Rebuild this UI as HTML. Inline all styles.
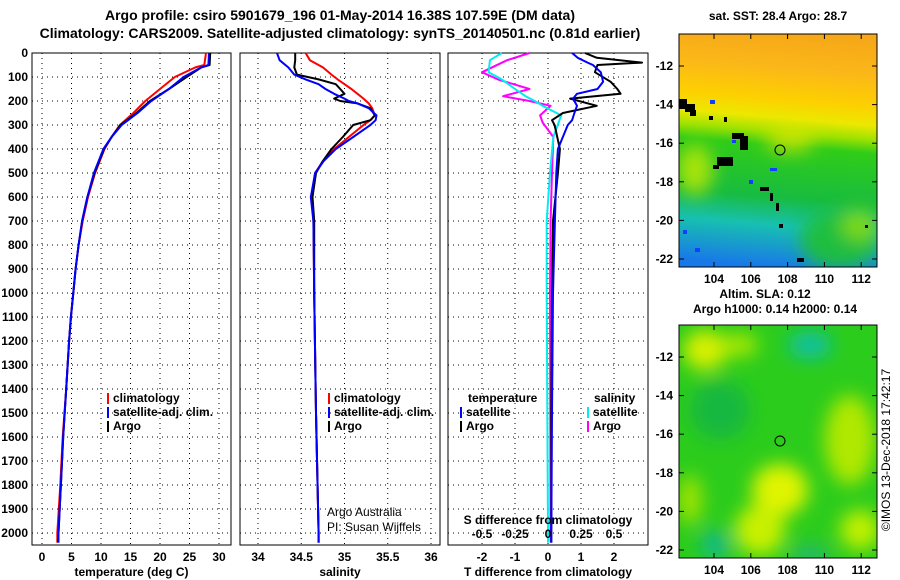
<!DOCTYPE html>
<html><head><meta charset="utf-8">
<style>
html,body{margin:0;padding:0;background:#fff;}
svg{display:block;font-family:"Liberation Sans",sans-serif;}
.t{font-weight:bold;font-size:12px;fill:#000;}
.ti{font-weight:bold;font-size:14px;fill:#000;}
.grid{stroke:#000;stroke-width:1;stroke-dasharray:1,4;}
</style></head>
<body>
<svg id="fig" width="900" height="580" viewBox="0 0 900 580" xmlns="http://www.w3.org/2000/svg">
<defs>
<linearGradient id="sstg" gradientUnits="userSpaceOnUse" x1="790" y1="34" x2="770" y2="267">
<stop offset="0" stop-color="#f6a818"/>
<stop offset="0.15" stop-color="#fbb818"/>
<stop offset="0.28" stop-color="#fdd000"/>
<stop offset="0.36" stop-color="#ece800"/>
<stop offset="0.42" stop-color="#a0e200"/>
<stop offset="0.48" stop-color="#30cc18"/>
<stop offset="0.70" stop-color="#18bc40"/>
<stop offset="0.82" stop-color="#18c0b0"/>
<stop offset="1" stop-color="#1878e8"/>
</linearGradient>
<filter id="blur" x="-50%" y="-50%" width="200%" height="200%"><feGaussianBlur stdDeviation="9"/></filter>
<clipPath id="m1c"><rect x="679" y="34" width="198" height="233"/></clipPath>
<clipPath id="m2c"><rect x="679" y="325" width="198" height="233"/></clipPath>
</defs>
<text class="ti" x="340" y="20" text-anchor="middle">Argo profile: csiro 5901679_196 01-May-2014 16.38S 107.59E (DM data)</text>
<text class="ti" x="340" y="38" text-anchor="middle">Climatology: CARS2009. Satellite-adjusted climatology: synTS_20140501.nc (0.81d earlier)</text>
<g id="p1"></g>
<g id="p2"></g>
<g id="p3"></g>

<!-- SST map -->
<g>
<text class="t" x="778" y="20" text-anchor="middle">sat. SST: 28.4 Argo: 28.7</text>
<g clip-path="url(#m1c)">
<rect x="679" y="34" width="198" height="233" fill="url(#sstg)"/>
<g filter="url(#blur)">
<ellipse cx="695" cy="170" rx="18" ry="25" fill="#c8ec00" opacity="0.8"/>
<ellipse cx="790" cy="140" rx="25" ry="12" fill="#e8e800" opacity="0.7"/>
<ellipse cx="840" cy="240" rx="40" ry="30" fill="#20c030" opacity="0.9"/>
<ellipse cx="860" cy="225" rx="18" ry="15" fill="#a8e400" opacity="0.7"/>
</g>
<g fill="#000">
<rect x="679" y="99" width="8" height="10"/><rect x="685" y="104" width="10" height="8"/><rect x="690" y="110" width="6" height="6"/>
<rect x="732" y="133" width="12" height="6"/><rect x="740" y="136" width="8" height="14"/>
<rect x="717" y="157" width="16" height="9"/><rect x="713" y="165" width="6" height="4"/>
<rect x="760" y="187" width="9" height="4"/><rect x="770" y="193" width="3" height="8"/><rect x="776" y="203" width="3" height="8"/>
<rect x="779" y="224" width="4" height="4"/><rect x="797" y="258" width="7" height="4"/><rect x="865" y="225" width="3" height="3"/>
<rect x="709" y="116" width="4" height="4"/><rect x="724" y="117" width="3" height="5"/>
</g>
<g fill="#1040ff">
<rect x="710" y="100" width="5" height="4"/><rect x="732" y="140" width="4" height="3"/><rect x="770" y="168" width="7" height="3"/>
<rect x="683" y="230" width="4" height="4"/><rect x="695" y="248" width="5" height="4"/><rect x="749" y="180" width="4" height="4"/>
</g>
</g>
<rect x="679" y="34" width="198" height="233" fill="none" stroke="#000"/>
<circle cx="780" cy="150" r="5" fill="none" stroke="#000"/>
<g id="m1ax"></g>
</g>

<!-- SLA map -->
<g>
<text class="t" x="765" y="298" text-anchor="middle">Altim. SLA: 0.12</text>
<text class="t" x="775" y="313" text-anchor="middle">Argo h1000: 0.14 h2000: 0.14</text>
<g clip-path="url(#m2c)">
<rect x="679" y="325" width="198" height="233" fill="#2ccc1c"/>
<g filter="url(#blur)">
<ellipse cx="705" cy="350" rx="22" ry="20" fill="#d8f000"/>
<ellipse cx="740" cy="345" rx="18" ry="12" fill="#a8e800"/>
<ellipse cx="810" cy="345" rx="22" ry="14" fill="#10c0a0"/>
<ellipse cx="780" cy="490" rx="28" ry="26" fill="#e0f400"/>
<ellipse cx="850" cy="440" rx="25" ry="45" fill="#b0e800"/>
<ellipse cx="760" cy="530" rx="25" ry="25" fill="#c8f000"/>
<ellipse cx="860" cy="530" rx="20" ry="20" fill="#c0f000"/>
<ellipse cx="715" cy="545" rx="14" ry="14" fill="#10b890"/>
<ellipse cx="810" cy="555" rx="20" ry="10" fill="#20b870"/>
<ellipse cx="720" cy="410" rx="30" ry="30" fill="#18b840"/>
<ellipse cx="690" cy="500" rx="12" ry="25" fill="#a0e400"/>
</g>
</g>
<rect x="679" y="325" width="198" height="233" fill="none" stroke="#000"/>
<circle cx="780" cy="441" r="5" fill="none" stroke="#000"/>
<g id="m2ax"></g>
</g>
<text x="890" y="450" font-size="12" text-anchor="middle" transform="rotate(-90 890 450)">©IMOS 13-Dec-2018 17:42:17</text>
</svg>
<script>
// ===== data =====
const tDepth = [0,50,60,100,150,200,250,300,350,400,500,600,700,800,900,1000,1100,1200,1400,1600,1800,2000,2040];
const tArgo  = [28.5,28.4,27.0,24.5,21.5,18.3,16.0,13.3,11.8,10.5,8.9,7.7,6.8,6.2,5.7,5.3,4.9,4.6,4.1,3.6,3.2,2.8,2.7];
const tClim  = [27.8,27.5,26.0,22.5,20.0,17.5,15.5,13.2,11.8,10.6,9.0,7.8,6.9,6.2,5.7,5.3,4.9,4.6,4.1,3.5,3.1,2.6,2.6];
const tSat   = [28.3,28.2,27.0,24.0,21.5,18.5,16.2,13.5,11.8,10.4,8.8,7.7,6.8,6.2,5.7,5.3,4.9,4.6,4.1,3.6,3.2,2.8,2.8];
const sDepth = [0,30,60,90,110,130,150,170,190,200,210,230,260,280,300,350,400,450,500,600,700,1000,1500,2000,2040];
const sArgo  = [34.43,34.43,34.42,34.45,34.70,34.90,34.95,35.00,34.88,34.95,35.15,35.30,35.35,35.30,35.10,34.98,34.85,34.75,34.67,34.63,34.65,34.65,34.67,34.70,34.70];
const sClim  = [34.55,34.60,34.75,34.85,34.92,35.00,35.08,35.15,35.22,35.25,35.28,35.32,35.35,35.30,35.22,35.05,34.88,34.75,34.66,34.62,34.64,34.65,34.67,34.70,34.70];
const sSat   = [34.22,34.25,34.35,34.42,34.55,34.70,34.78,34.88,35.00,35.05,35.15,35.28,35.37,35.36,35.30,35.10,34.90,34.76,34.66,34.61,34.64,34.65,34.67,34.70,34.70];
const dtDepth = [0,20,40,50,80,120,150,170,190,220,250,280,300,400,500,700,1000,1500,2000,2040];
const dtArgo  = [1.12,1.48,2.85,1.5,1.42,1.9,2.1,2.2,0.67,1.48,0.45,0.12,0.2,0.36,0.3,0.15,0.12,0.1,0.1,0.1];
const dtSat   = [0.73,0.9,1.2,1.36,1.6,1.67,1.5,0.88,0.76,0.88,0.8,0.73,0.6,0.3,0.25,0.21,0.15,0.12,0.1,0.1];
const dsDepth = [0,30,80,110,150,180,200,220,260,290,350,500,700,1000,2000,2040];
const dsArgo  = [-0.14,-0.31,-0.5,-0.38,-0.14,-0.34,-0.14,0.02,-0.06,-0.04,0.04,0.03,0.02,0.015,0.02,0.02];
const dsSat   = [-0.35,-0.44,-0.45,-0.35,-0.25,-0.17,-0.1,-0.04,0.1,0.08,0.04,0.015,-0.01,-0.01,0,0];
const depthTicks = [0,100,200,300,400,500,600,700,800,900,1000,1100,1200,1300,1400,1500,1600,1700,1800,1900,2000];
const tTicks = [0,5,10,15,20,25,30];
const sTicks = [34,34.5,35,35.5,36];
const dtTicks = [-2,-1,0,1,2];
const dsTicks = [-0.5,-0.25,0,0.25,0.5];
const latTicks = [-12,-14,-16,-18,-20,-22];
const lonTicks = [104,106,108,110,112];

const NS='http://www.w3.org/2000/svg';
function mk(tag, attrs, parent){const e=document.createElementNS(NS,tag);for(const k in attrs)e.setAttribute(k,attrs[k]);parent.appendChild(e);return e;}
const TOP=53, BOT=545;
const yD = d => 53 + d*0.24;

function panel(g, x0, x1, xs, ticks, fmt, label, left){
  const f = mk('rect',{x:x0,y:TOP,width:x1-x0,height:BOT-TOP,fill:'none',stroke:'#000'},g);
  
  
  depthTicks.forEach(d=>{
    if(d>0){const l=mk('line',{x1:x0,x2:x1,y1:yD(d),y2:yD(d),class:'grid'},g);
    
    }
    if(left){const t=mk('text',{x:28,y:yD(d)+4,'text-anchor':'end',class:'t'},g);t.textContent=d;
    
    }
  });
  ticks.forEach(v=>{
    const x=xs(v);
    const l=mk('line',{x1:x,x2:x,y1:TOP,y2:BOT,class:'grid'},g);
    
    
    const t=mk('text',{x:x,y:561,'text-anchor':'middle',class:'t'},g);t.textContent=fmt(v);
    
    
  });
  const xl=mk('text',{x:(x0+x1)/2,y:576,'text-anchor':'middle',class:'t'},g);xl.textContent=label;
  
  
}
function line(g, xs, depths, vals, color, w, name){
  const p=depths.map((d,i)=>(i?'L':'M')+xs(vals[i]).toFixed(1)+','+yD(d).toFixed(1)).join('');
  const e=mk('path',{d:p,fill:'none',stroke:color,'stroke-width':w,'stroke-linejoin':'round'},g);
  
  
}
function legend(g, x, y, items){
  items.forEach((it,i)=>{
    const yy=y+i*14;
    mk('rect',{x:x,y:yy-9,width:2,height:11,fill:it[1]},g);
    const t=mk('text',{x:x+6,y:yy,class:'t'},g);t.textContent=it[0];
    
    
  });
}
// Panel 1
const p1=document.getElementById('p1');
const xT=v=>42+v*5.9;
panel(p1,32,231,xT,tTicks,v=>v,'temperature (deg C)',true);
line(p1,xT,tDepth,tClim,'#f00',2,'temperature-climatology-line');
line(p1,xT,tDepth,tArgo,'#000',2,'temperature-argo-line');
line(p1,xT,tDepth,tSat,'#00f',2,'temperature-satellite-line');
legend(p1,107,402,[['climatology','#f00'],['satellite-adj. clim.','#00f'],['Argo','#000']]);
// Panel 2
const p2=document.getElementById('p2');
const xS=v=>258+(v-34)*86.5;
panel(p2,240,440,xS,sTicks,v=>v,'salinity',false);
line(p2,xS,sDepth,sClim,'#f00',2,'salinity-climatology-line');
line(p2,xS,sDepth,sArgo,'#000',2,'salinity-argo-line');
line(p2,xS,sDepth,sSat,'#00f',2,'salinity-satellite-line');
legend(p2,328,402,[['climatology','#f00'],['satellite-adj. clim.','#00f'],['Argo','#000']]);
[['Argo Australia',516],['PI: Susan Wijffels',531]].forEach(a=>{const t=mk('text',{x:327,y:a[1],'font-size':'12'},p2);t.textContent=a[0];

});
// Panel 3
const p3=document.getElementById('p3');
const xDT=v=>548+v*33;
const xDS=v=>548+v*132;
panel(p3,448,648,xDT,dtTicks,v=>v,'T difference from climatology',false);
line(p3,xDS,dsDepth,dsArgo,'#f0f',2,'salinity-diff-argo-line');
line(p3,xDS,dsDepth,dsSat,'#0ee',2,'salinity-diff-satellite-line');
line(p3,xDT,dtDepth,dtArgo,'#000',2,'temperature-diff-argo-line');
line(p3,xDT,dtDepth,dtSat,'#00f',2,'temperature-diff-satellite-line');
dsTicks.forEach(v=>{const t=mk('text',{x:xDS(v),y:538,'text-anchor':'middle',class:'t'},p3);t.textContent=v;

});
{const t=mk('text',{x:548,y:524,'text-anchor':'middle',class:'t'},p3);t.textContent='S difference from climatology';

}
{const t=mk('text',{x:468,y:402,class:'t'},p3);t.textContent='temperature';

}
{const t=mk('text',{x:594,y:402,class:'t'},p3);t.textContent='salinity';

}
legend(p3,460,416,[['satellite','#00f'],['Argo','#000']]);
legend(p3,587,416,[['satellite','#0ee'],['Argo','#f0f']]);
// Map axes
function mapAxes(id, top, labY){
  const g=document.getElementById(id);
  const yL=v=>top+32+(-12-v)*19.3;
  const xL=v=>714+(v-104)*18.4;
  latTicks.forEach(v=>{const y=yL(v);
    mk('line',{x1:679,x2:684,y1:y,y2:y,stroke:'#000'},g);
    mk('line',{x1:872,x2:877,y1:y,y2:y,stroke:'#000'},g);
    const t=mk('text',{x:673,y:y+4,'text-anchor':'end',class:'t'},g);t.textContent=v;
    
    });
  lonTicks.forEach(v=>{const x=xL(v);
    mk('line',{x1:x,x2:x,y1:top,y2:top+5,stroke:'#000'},g);
    mk('line',{x1:x,x2:x,y1:top+228,y2:top+233,stroke:'#000'},g);
    const t=mk('text',{x:x,y:labY,'text-anchor':'middle',class:'t'},g);t.textContent=v;
    
    });
}
mapAxes('m1ax',34,283);
mapAxes('m2ax',325,574);
</script>
</body></html>
